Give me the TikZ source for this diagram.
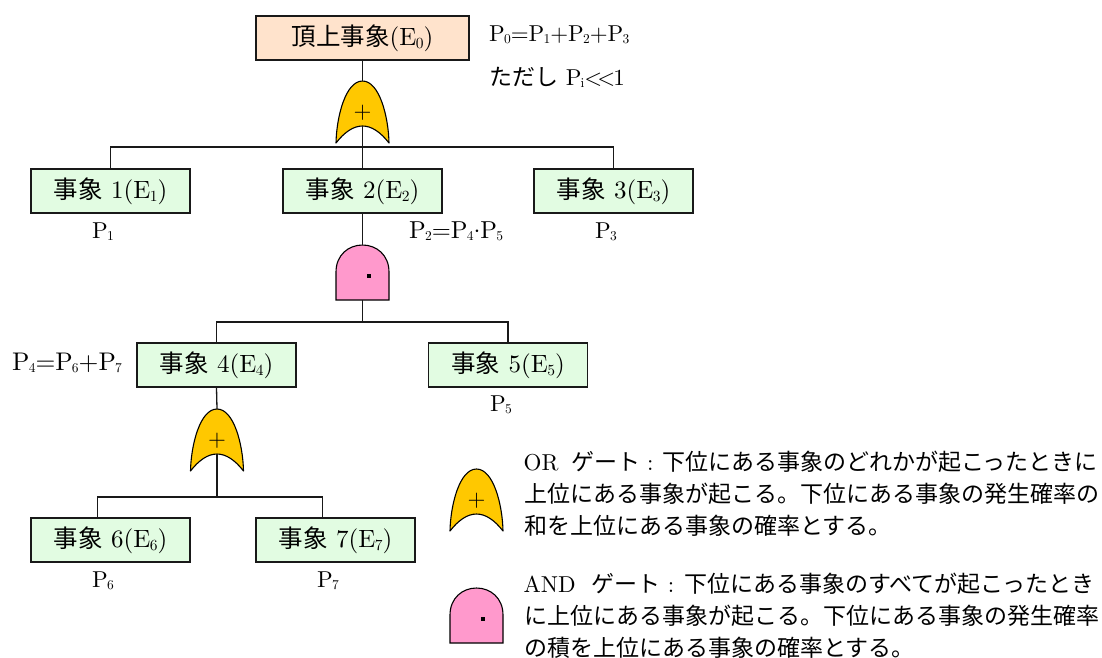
\documentclass[tikz,border=0pt]{standalone}
\usepackage{fontspec}
\setmainfont{lmroman10-regular}[Extension=.otf,Ligatures=NoCommon]
\newfontfamily\cjk{Noto Sans CJK JP}
\newcommand{\J}[1]{{\cjk\fontsize{23}{32}\selectfont #1}}
\newcommand{\JB}[1]{{\cjk\fontsize{24.5}{32}\selectfont #1}}
\newcommand{\Sz}{\fontsize{23}{32}\selectfont}
\newcommand{\Ss}[1]{\kern-0.8pt\raisebox{-2.2pt}{\fontsize{13.5}{13.5}\selectfont #1}}
\newcommand{\SsB}[1]{\kern-0.6pt\raisebox{-3pt}{\fontsize{15.5}{15.5}\selectfont #1}}
\definecolor{orgate}{HTML}{FFC800}
\definecolor{andgate}{HTML}{FF99CC}
\definecolor{evgreen}{HTML}{E2FCE2}
\definecolor{topfill}{HTML}{FFE3CC}
\tikzset{
  x=1pt,y=-1pt,
  every node/.style={font=\Sz,inner sep=0pt},
  wire/.style={line width=1.3pt,draw=black!90},
  boxbase/.style={draw=black!90,line width=1.5pt,minimum height=44pt,text height=18pt,text depth=4pt,font=\fontsize{25}{32}\selectfont},
  evbox/.style={boxbase,fill=evgreen,minimum width=159pt},
  topbox/.style={boxbase,fill=topfill,minimum width=213pt},
  orshape/.style={fill=orgate,draw=black,line width=1.1pt,line join=round},
  andshape/.style={fill=andgate,draw=black,line width=1.1pt,line join=miter},
  lab/.style={anchor=base west},
  clab/.style={anchor=base},
}
% gate pictures: origin = apex of the gate
\newcommand{\OrGate}[3]{% name, x, y apex
  \begin{scope}[shift={(#2,#3)}]
    \draw[orshape] (0,0) .. controls (-17,0) and (-26,36) .. (-26.5,62)
      .. controls (-18,51) and (-9,45) .. (0,45)
      .. controls (9,45) and (18,51) .. (26.5,62)
      .. controls (26,36) and (17,0) .. (0,0) -- cycle;
    \node (#1) at (0,32) {+};
    \coordinate (#1t) at (0,0);
    \coordinate (#1b) at (0,45);
  \end{scope}}
\newcommand{\AndGate}[3]{% name, x, y apex
  \begin{scope}[shift={(#2,#3)}]
    \draw[andshape] (-26.5,55) -- (-26.5,27) .. controls (-26.5,10) and (-14,0) .. (0,0)
      .. controls (14,0) and (26.5,10) .. (26.5,27) -- (26.5,55) -- cycle;
    \node[fill=black,minimum size=4pt] (#1) at (6,30.5) {};
    \coordinate (#1t) at (0,0);
    \coordinate (#1b) at (0,55);
  \end{scope}}
\begin{document}
\begin{tikzpicture}
\useasboundingbox (0,0) rectangle (1102,657);
% boxes
\node[topbox] (e0) at (362.5,38) {\JB{頂上事象}(E\SsB{0})};
\node[evbox] (e1) at (110.5,191) {\JB{事象} 1(E\SsB{1})};
\node[evbox] (e2) at (362.5,191) {\JB{事象} 2(E\SsB{2})};
\node[evbox] (e3) at (613.5,191) {\JB{事象} 3(E\SsB{3})};
\node[evbox] (e4) at (216.5,365) {\JB{事象} 4(E\SsB{4})};
\node[evbox] (e5) at (508,365) {\JB{事象} 5(E\SsB{5})};
\node[evbox] (e6) at (110.5,540) {\JB{事象} 6(E\SsB{6})};
\node[evbox] (e7) at (335.5,540) {\JB{事象} 7(E\SsB{7})};
% junctions
\coordinate (b1) at (362.5,147);
\coordinate (b2) at (362.5,322);
\coordinate (b3) at (217,497);
\coordinate (c6) at (97.7,518);
\coordinate (c7) at (322.7,518);
% gates
\OrGate{g1}{362.5}{81}
\AndGate{g2}{362.5}{245}
\OrGate{g3}{217}{409}
\OrGate{lg1}{476.5}{469}
\AndGate{lg2}{476.5}{588}
% connectors
\draw[wire] (e0.south) -- (g1t);
\draw[wire] (g1b) -- (e2.north);
\draw[wire] (e1.north) |- (b1) -| (e3.north);
\draw[wire] (e2.south) -- (g2t);
\draw[wire] (g2b) -- (b2);
\draw[wire] (e4.north) |- (b2) -| (e5.north);
\draw[wire] (e4.south) -- (g3t);
\draw[wire] (g3b) -- (b3);
\draw[wire] (c6) |- (b3) -| (c7);
% labels
\node[lab] (p0) at (489,41) {P\Ss{0}=P\Ss{1}+P\Ss{2}+P\Ss{3}};
\node[lab] (pi) at (489,85) {\J{ただし} P\Ss{i}<\kern-5pt<\kern-2pt 1};
\node[clab] (p1) at (103,238) {P\Ss{1}};
\node[lab,font=\fontsize{24.5}{32}\selectfont] (p2) at (409,238) {P\Ss{2}=P\Ss{4}\raisebox{1pt}{$\cdot$}P\Ss{5}};
\node[clab] (p3) at (606,238) {P\Ss{3}};
\node[lab,font=\fontsize{25.5}{32}\selectfont] (p4) at (12,370) {P\Ss{4}=P\Ss{6}+P\Ss{7}};
\node[clab] (p5) at (501,411.5) {P\Ss{5}};
\node[clab] (p6) at (103,587) {P\Ss{6}};
\node[clab] (p7) at (328,587) {P\Ss{7}};
% legend
\node[lab] (t1a) at (523.5,470) {OR\hspace{12.5pt}\J{ゲート}\hspace{7pt}:\hspace{9pt}\J{下位にある事象のどれかが起こったときに}};
\node[lab] (t1b) at (524,502) {\J{上位にある事象が起こる。下位にある事象の発生確率の}};
\node[lab] (t1c) at (524,534) {\J{和を上位にある事象の確率とする。}};
\node[lab] (t2a) at (523.5,592) {AND\hspace{16pt}\J{ゲート}\hspace{7pt}:\hspace{10pt}\J{下位にある事象のすべてが起こったとき}};
\node[lab] (t2b) at (524,624) {\J{に上位にある事象が起こる。下位にある事象の発生確率}};
\node[lab] (t2c) at (524,656) {\J{の積を上位にある事象の確率とする。}};
\end{tikzpicture}
\end{document}
